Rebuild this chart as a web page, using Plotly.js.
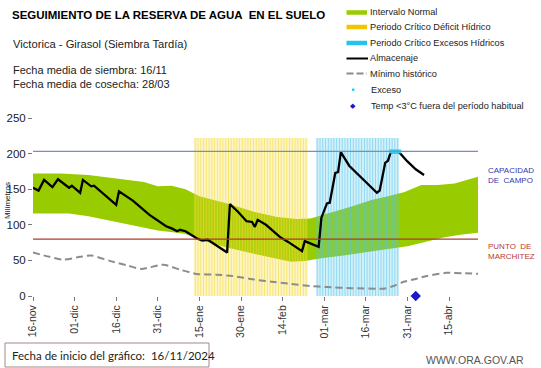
<!DOCTYPE html>
<html><head><meta charset="utf-8">
<script src="https://cdn.plot.ly/plotly-3.0.1.min.js"></script>
<style>html,body{margin:0;padding:0;background:#fff;}#chart{width:541px;height:368px;}</style>
</head><body><div id="chart"></div>
<script>
// ---------- DATA ----------
const tickDates = ['2024-11-16','2024-12-01','2024-12-16','2024-12-31','2025-01-15','2025-01-30','2025-02-14','2025-03-01','2025-03-16','2025-03-31','2025-04-15'];
const tickLabels = ['16-nov','01-dic','16-dic','31-dic','15-ene','30-ene','14-feb','01-mar','16-mar','31-mar','15-abr'];

const almDates = ['2024-11-16','2024-11-18','2024-11-20','2024-11-23','2024-11-25','2024-11-29','2024-11-30','2024-12-03','2024-12-04','2024-12-07','2024-12-08','2024-12-12','2024-12-16','2024-12-17','2024-12-22','2024-12-28','2025-01-03','2025-01-05','2025-01-07','2025-01-08','2025-01-10','2025-01-14','2025-01-16','2025-01-18','2025-01-25','2025-01-26','2025-01-29','2025-02-01','2025-02-03','2025-02-04','2025-02-05','2025-02-08','2025-02-13','2025-02-16','2025-02-21','2025-02-22','2025-02-27','2025-02-28','2025-03-01','2025-03-02','2025-03-03','2025-03-04','2025-03-05','2025-03-06','2025-03-07','2025-03-10','2025-03-14','2025-03-20','2025-03-21','2025-03-23','2025-03-24','2025-03-25','2025-03-28','2025-03-31','2025-04-03','2025-04-06'];
const almValues = [152,148,163,153,164,152,155,145,163,154,155,141,128,147,134,114,98,95,91,93,91,81,78,79,61,129,118,105,104,97,107,100,83,76,63,77,69,110,119,130,131,150,173,174,202,183,168,145,148,187,190,202,202,189,178,170];

const bandUpperDates = ['2024-11-16','2024-11-26','2024-12-06','2024-12-16','2024-12-26','2024-12-31','2025-01-05','2025-01-10','2025-01-15','2025-01-25','2025-02-04','2025-02-12','2025-02-19','2025-02-24','2025-03-01','2025-03-06','2025-03-12','2025-03-18','2025-03-24','2025-03-30','2025-04-05','2025-04-11','2025-04-17','2025-04-26'];
const bandUpper = [172,172,170,165,160,154,155,150,140,130,118,111,108,109,114,120,127,135,140,146,156,156,158,168];
const bandLowerDates = ['2024-11-16','2024-11-29','2024-12-06','2024-12-16','2024-12-26','2024-12-31','2025-01-07','2025-01-10','2025-01-15','2025-01-25','2025-02-04','2025-02-12','2025-02-17','2025-02-22','2025-02-28','2025-03-08','2025-03-16','2025-03-24','2025-03-31','2025-04-07','2025-04-13','2025-04-19','2025-04-26'];
const bandLower = [116,116,112,104,96,92,89,87,79,68,59,52,48,49,53,57,62,66,70,77,82,86,89];

const minDates = ['2024-11-16','2024-11-22','2024-11-27','2024-12-03','2024-12-07','2024-12-14','2024-12-20','2024-12-25','2025-01-02','2025-01-08','2025-01-14','2025-01-21','2025-01-27','2025-02-04','2025-02-10','2025-02-16','2025-02-24','2025-03-02','2025-03-11','2025-03-23','2025-03-26','2025-03-29','2025-04-03','2025-04-07','2025-04-14','2025-04-20','2025-04-26'];
const minValues = [61,55,51,55,57,49,43,38,44,37,31,30,28,23,20,17.5,14,12.5,11,10.5,14,19,24,28,32.5,32,31];

const periodNames = ['Periodo Crítico Déficit Hídrico','Periodo Crítico Excesos Hídricos'];
const periodStart = ['2025-01-13','2025-02-26'];
const periodEnd = ['2025-02-23','2025-03-28'];
const periodTop = [222,222];

const excesoDates = ['2025-03-25','2025-03-26','2025-03-27','2025-03-28'];
const excesoValues = [203,203,203,203];
const frioDates = ['2025-04-03'];
const frioValues = [0];

const capacidadCampo = 203;
const puntoMarchitez = 80;

// ---------- LAYOUT HELPERS ----------
const W=541,H=368,L=33,R=63,T=118,B=72,PW=W-L-R,PH=H-T-B;
const fx = x => (x-L)/PW, fy = y => (H-B-y)/PH;
const ARIAL = 'Liberation Sans, Arial, sans-serif';

const periodColors = ['rgba(245,218,50,0.7)','rgba(80,198,235,0.66)'];

const traces = [];
traces.push({x:bandLowerDates,y:bandLower,type:'scatter',mode:'lines',line:{width:0,color:'#99cc00'},hoverinfo:'skip',zorder:0});
traces.push({x:bandUpperDates,y:bandUpper,type:'scatter',mode:'lines',line:{width:0,color:'#99cc00'},fill:'tonexty',fillcolor:'#99cc00',hoverinfo:'skip',zorder:0});
traces.push({x:frioDates,y:frioValues,type:'scatter',mode:'markers',marker:{symbol:'diamond',size:8,color:'#1a1acc'},cliponaxis:false,zorder:0});
periodStart.forEach((s,i)=>{
  const dur = new Date(periodEnd[i]) - new Date(s);
  traces.push({type:'bar',name:periodNames[i],x:[s],y:[periodTop[i]],offset:0,width:[dur],
    marker:{color:periodColors[i],line:{width:0},pattern:{shape:'|',fillmode:'replace',fgcolor:periodColors[i],bgcolor:'rgba(255,255,255,0)',size:2.773,solidity:0.6}},
    hoverinfo:'skip',zorder:1});
});
traces.push({x:minDates,y:minValues,type:'scatter',mode:'lines',line:{color:'#8c8c8c',width:2,dash:'7px,4px',shape:'spline',smoothing:0.6},zorder:2});
traces.push({x:almDates,y:almValues,type:'scatter',mode:'lines',line:{color:'#000',width:2.3},zorder:3});
traces.push({x:excesoDates,y:excesoValues,type:'scatter',mode:'markers',marker:{symbol:'square',size:4,color:'#3cc8ec'},zorder:4});

const shapes = [
  {type:'line',xref:'paper',x0:0,x1:1,yref:'y',y0:capacidadCampo,y1:capacidadCampo,line:{color:'#7590c0',width:1.2}},
  {type:'line',xref:'paper',x0:0,x1:1,yref:'y',y0:puntoMarchitez,y1:puntoMarchitez,line:{color:'#b23a2a',width:1.2}},
  // legend symbols
  {type:'line',xref:'paper',yref:'paper',x0:fx(346.5),x1:fx(367),y0:fy(12.5),y1:fy(12.5),line:{color:'#99cc00',width:4.5}},
  {type:'line',xref:'paper',yref:'paper',x0:fx(346.5),x1:fx(367),y0:fy(27),y1:fy(27),line:{color:'#f5c400',width:4.5}},
  {type:'line',xref:'paper',yref:'paper',x0:fx(346.5),x1:fx(367),y0:fy(43),y1:fy(43),line:{color:'#22c4ee',width:4.5}},
  {type:'line',xref:'paper',yref:'paper',x0:fx(346.5),x1:fx(368),y0:fy(58.5),y1:fy(58.5),line:{color:'#000',width:2}},
  {type:'line',xref:'paper',yref:'paper',x0:fx(346.5),x1:fx(367),y0:fy(73.5),y1:fy(73.5),line:{color:'#8c8c8c',width:1.8,dash:'7px,3px'}},
  {type:'rect',xref:'paper',yref:'paper',x0:fx(352),x1:fx(354.5),y0:fy(91),y1:fy(88.5),line:{width:0},fillcolor:'#3cc8ec'},
  // bottom box
  {type:'rect',xref:'paper',yref:'paper',x0:fx(5),x1:fx(209),y0:fy(367),y1:fy(343),line:{color:'#a08888',width:1},fillcolor:'rgba(0,0,0,0)'}
];

const ann = (x,y,text,opts={}) => Object.assign({xref:'paper',yref:'paper',x:fx(x),y:fy(y),text,showarrow:false,xanchor:'left',yanchor:'middle',align:'left',font:{family:ARIAL,size:11,color:'#222'}},opts);
const legFont = {family:ARIAL,size:9.2,color:'#222'};
const annotations = [
  ann(11,44,'Victorica - Girasol (Siembra Tardía)',{font:{family:ARIAL,size:11.2,color:'#222'}}),
  ann(11,77,'Fecha media de siembra: 16/11<br>Fecha media de cosecha: 28/03',{font:{family:ARIAL,size:11,color:'#222'}}),
  ann(368,12,'Intervalo Normal',{font:legFont}),
  ann(368,27,'Periodo Crítico Déficit Hídrico',{font:legFont}),
  ann(368,43,'Periodo Crítico Excesos Hídricos',{font:legFont}),
  ann(368,58.5,'Almacenaje',{font:legFont}),
  ann(368,73.5,'Mínimo histórico',{font:legFont}),
  ann(369,90,'Exceso',{font:legFont}),
  ann(369,106.5,'Temp <3°C fuera del período habitual',{font:legFont}),
  ann(353,106.5,'◆',{xanchor:'center',font:{family:'DejaVu Sans',size:7,color:'#1a1acc'}}),
  ann(486,175,'CAPACIDAD<br>DE  CAMPO',{font:{family:ARIAL,size:8,color:'#3838a8'}}),
  ann(486,251,'PUNTO  DE<br>MARCHITEZ',{font:{family:ARIAL,size:8,color:'#c0392b'}}),
  ann(7,201,'Milímetros',{textangle:-90,xanchor:'center',font:{family:ARIAL,size:8,color:'#222'}}),
  ann(10,355,'Fecha de inicio del gráfico:  16/11/2024',{font:{family:'Lato, Carlito, sans-serif',size:11.5,color:'#222'}}),
  ann(424,359.5,'WWW.ORA.GOV.AR',{font:{family:ARIAL,size:10.5,color:'#555'}})
];

const layout = {
  width:W,height:H,margin:{l:L,r:R,t:T,b:B,pad:0},
  paper_bgcolor:'#fff',plot_bgcolor:'#fff',showlegend:false,barmode:'overlay',
  title:{text:'<b>SEGUIMIENTO DE LA RESERVA DE AGUA  EN EL SUELO</b>',xref:'container',yref:'container',x:12/W,xanchor:'left',y:1-15/H,yanchor:'middle',font:{family:ARIAL,size:11.5,color:'#000'}},
  xaxis:{type:'date',range:['2024-11-16','2025-04-25 11:00'],tickvals:tickDates,ticktext:tickLabels,tickangle:-90,
    ticks:'outside',ticklen:4,tickcolor:'#777',showline:true,linecolor:'#777',linewidth:1,showgrid:false,zeroline:false,
    tickfont:{family:ARIAL,size:10.5,color:'#333'}},
  yaxis:{range:[0,250],tickvals:[0,50,100,150,200,250],ticks:'outside',ticklen:4,tickcolor:'#777',showline:true,linecolor:'#777',linewidth:1,
    showgrid:false,zeroline:false,tickfont:{family:ARIAL,size:11.5,color:'#222'}},
  shapes,annotations
};
Plotly.newPlot('chart',traces,layout,{staticPlot:true,displayModeBar:false});
</script></body></html>
